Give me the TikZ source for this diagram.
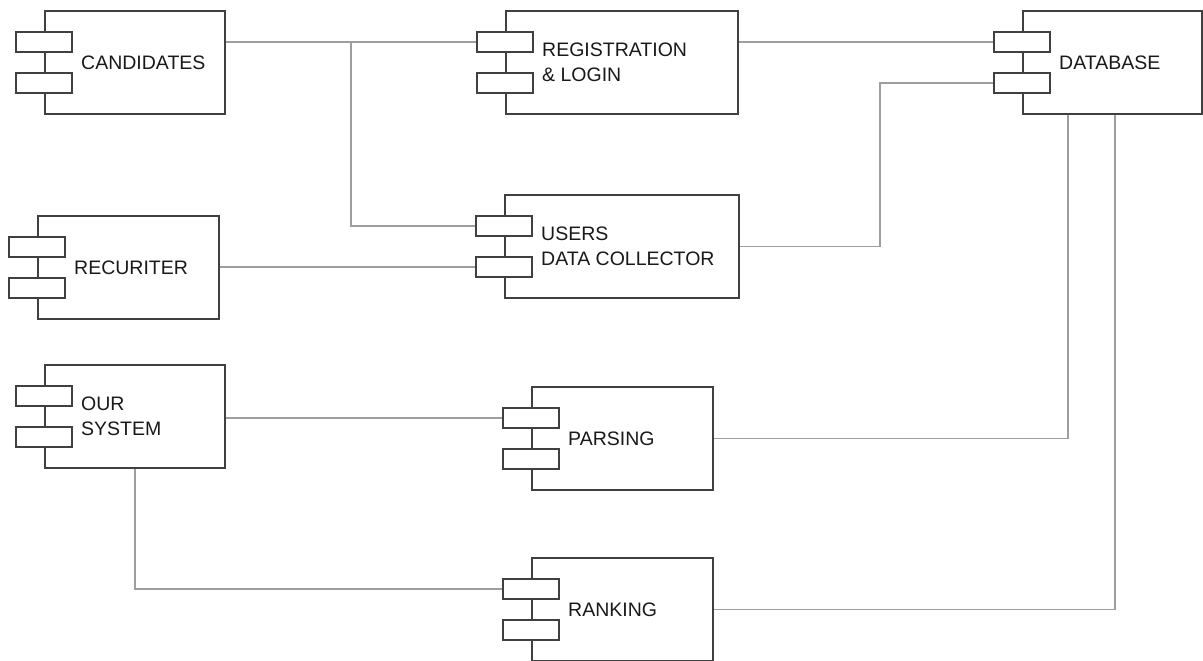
\documentclass[tikz,border=0pt]{standalone}
\usepackage{fontspec}
\setmainfont{Liberation Sans}
\begin{document}
\begin{tikzpicture}[x=1pt,y=-1pt,
  compbox/.style={draw=black!75,line width=1.6pt,fill=white,inner sep=0pt,anchor=north west,minimum height=103pt},
  port/.style={draw=black!75,line width=1.6pt,fill=white,inner sep=0pt,minimum width=56pt,minimum height=20pt,anchor=north},
  lbl/.style={anchor=west,align=left,inner sep=0pt,text=black!90,font=\fontsize{19.5}{25}\selectfont},
  wire/.style={draw=black!38,line width=1.5pt}]
\useasboundingbox (0,0) rectangle (1203,661);
\newcommand\mycomp[6]{%
  \node[compbox,minimum width=#4pt] (#1) at (#2,#3) {};
  \node[port] (#1-p1) at ([yshift=-21pt]#1.north west) {};
  \node[port] (#1-p2) at ([yshift=-62pt]#1.north west) {};
  \node[lbl] (#1-t) at ([xshift=37pt]#1.west) {#5};}
\coordinate (j1) at (351,0);
\coordinate (c1) at (880,0);
\coordinate (c2) at (1068,0);
\coordinate (c3) at (1115,0);
% components
\mycomp{cand}{44}{10}{180}{CANDIDATES}{}
\mycomp{reg}{505}{10}{232}{REGISTRATION\\\& LOGIN}{}
\mycomp{db}{1022}{10}{179}{DATABASE}{}
\mycomp{users}{504}{194}{234}{USERS\\DATA COLLECTOR}{}
\mycomp{rec}{37}{215}{181}{RECURITER}{}
\mycomp{our}{44}{364}{180}{OUR\\SYSTEM}{}
\mycomp{pars}{531}{386}{181}{PARSING}{}
\mycomp{rank}{531}{557}{181}{RANKING}{}
% connectors
\draw[wire] (cand.east |- reg-p1.west) -- (reg-p1.west);
\draw[wire] (j1 |- reg-p1.west) |- (users-p1.west);
\draw[wire] (reg.east |- db-p1.west) -- (db-p1.west);
\draw[wire] (users.east) -- (users.east -| c1) |- (db-p2.west);
\draw[wire] (rec.east |- users-p2.west) -- (users-p2.west);
\draw[wire] (our.east |- pars-p1.west) -- (pars-p1.west);
\draw[wire] (our.south) |- (rank-p1.west);
\draw[wire] (pars.east) -| (c2 |- db.south);
\draw[wire] (rank.east) -| (c3 |- db.south);
\end{tikzpicture}
\end{document}
